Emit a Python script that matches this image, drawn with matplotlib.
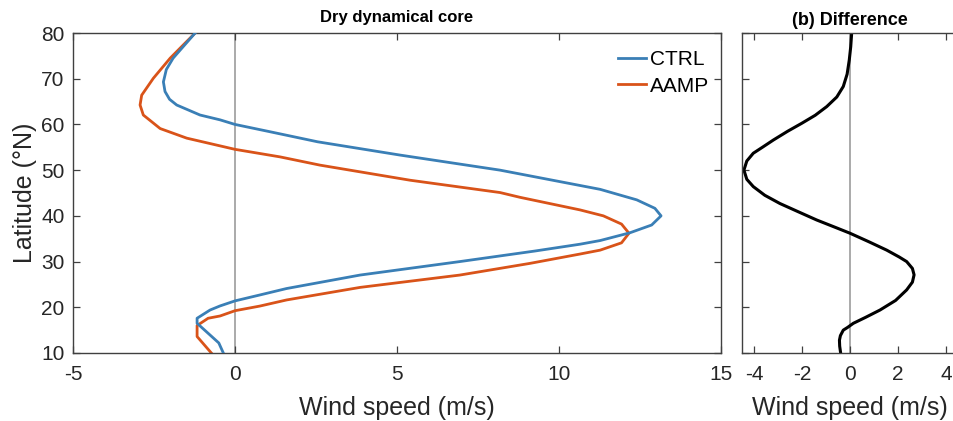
import numpy as np
import matplotlib
matplotlib.use("Agg")
import matplotlib.pyplot as plt

plt.rcParams['font.family'] = ['Liberation Sans', 'DejaVu Sans']
plt.rcParams['axes.unicode_minus'] = False

############################## DATA ##############################
# zonal wind profiles (m/s) against latitude
ctrlLat = [80, 74.5, 72, 69.3, 67.2, 65.5, 64.25, 62.06, 61, 60, 58.4, 56.2, 53.3, 50,
           45.8, 43.5, 41.65, 40, 38, 36.3, 34.6, 33.8, 32.3, 30, 27.05, 24.1, 22.7, 21.4, 20.3,
           19.4, 17.6, 16.5, 12.2, 10]
ctrlWind = [-1.23, -1.91, -2.12, -2.21, -2.16, -2.02, -1.8, -1.08, -0.46, 0, 1.08, 2.55, 5.09,
            8.18, 11.27, 12.4, 12.96, 13.15, 12.86, 12.19, 11.27, 10.65, 9.25, 6.94, 3.86,
            1.59, 0.77, 0, -0.46, -0.77, -1.17, -1.17, -0.5, -0.36]

aampLat = [80, 74.5, 70.1, 66.4, 64.25, 62.06, 59.1, 57, 54.55, 52.9, 51.1, 47.8, 45.1, 44.05,
           41.3, 40, 38.2, 36.2, 34.1, 32.5, 31.65, 29.6, 27.05, 25, 24.35, 21.6, 20.27, 19.25,
           18.1, 17.6, 16, 13.6, 10]
aampWind = [-1.23, -2.0, -2.52, -2.88, -2.93, -2.83, -2.31, -1.49, 0, 1.39, 2.62, 5.4, 8.18, 8.8,
            10.65, 11.37, 11.93, 12.16, 11.93, 11.27, 10.65, 9.1, 6.94, 4.6, 3.86, 1.59, 0.77, 0,
            -0.46, -0.83, -1.17, -1.17, -0.73]

# AAMP minus CTRL
diffLat = [80, 77, 74.1, 71, 68.3, 66, 63.9, 62, 60.25, 58.5, 56.6, 55, 53.7, 52, 50, 48, 46.4,
           44.5, 42.7, 41, 39.1, 37.5, 36.2, 34.3, 32.5, 31, 30, 28.5, 27.1, 25.5, 23.8, 21.5,
           19.4, 17.8, 16.5, 15.6, 15, 13.8, 12.8, 11.5, 10]
diffWind = [0.07, 0.03, -0.03, -0.12, -0.28, -0.55, -0.97, -1.45, -2.01, -2.6, -3.19, -3.65, -4.03,
            -4.3, -4.42, -4.3, -4.03, -3.55, -2.92, -2.2, -1.39, -0.62, 0, 0.8, 1.53, 2.05, 2.36,
            2.6, 2.67, 2.6, 2.36, 1.9, 1.25, 0.65, 0.14, -0.1, -0.28, -0.4, -0.44, -0.43, -0.39]
################################ FIN ################################

blue = "#3a7fb6"
orange = "#d95319"
spineCol = "#404040"
textCol = "#262626"
zeroCol = "#aaaaaa"

fig = plt.figure(figsize=(9.54, 4.21), dpi=100)
ax1 = fig.add_axes([73/954, 1 - 353/421, 648/954, 320/421])
ax2 = fig.add_axes([742/954, 1 - 353/421, 216/954, 320/421])

def style_axes(ax):
    for s in ax.spines.values():
        s.set_color(spineCol)
        s.set_linewidth(1.0)
    ax.tick_params(direction="in", length=5, width=0.9, color=spineCol,
                   top=True, right=True, labelsize=15, labelcolor=textCol)
    ax.tick_params(axis="x", pad=9)
    ax.tick_params(axis="y", pad=6)

## Left panel
ax1.axvline(0, color=zeroCol, lw=1.4, zorder=1)
ax1.plot(ctrlWind, ctrlLat, color=blue, lw=2.0, label="CTRL", zorder=3)
ax1.plot(aampWind, aampLat, color=orange, lw=2.0, label="AAMP", zorder=2)
ax1.set_xlim(-5, 15)
ax1.set_ylim(10, 80)
ax1.set_xticks([-5, 0, 5, 10, 15])
ax1.set_yticks(np.arange(10, 81, 10))
style_axes(ax1)
ax1.set_xlabel("Wind speed (m/s)", fontsize=18, color=textCol, labelpad=8)
ax1.set_ylabel("Latitude (°N)", fontsize=18, color=textCol, labelpad=3)
ax1.set_title("Dry dynamical core", fontsize=12, fontweight="bold", pad=8)
leg = ax1.legend(loc="upper right", bbox_to_anchor=(0.994, 0.972), borderaxespad=0,
                 frameon=False, fontsize=15, handlelength=1.35, handletextpad=0.15,
                 labelspacing=0.35)

## Right panel
ax2.axvline(0, color=zeroCol, lw=1.4, zorder=1)
ax2.plot(diffWind, diffLat, color="black", lw=2.2, zorder=2)
ax2.set_xlim(-4.5, 4.5)
ax2.set_ylim(10, 80)
ax2.set_xticks([-4, -2, 0, 2, 4])
ax2.set_yticks(np.arange(10, 81, 10))
ax2.set_yticklabels([])
style_axes(ax2)
ax2.tick_params(right=False)
ax2.set_xlabel("Wind speed (m/s)", fontsize=18, color=textCol, labelpad=8)
ax2.set_title("(b) Difference", fontsize=13, fontweight="bold", pad=6)

fig.savefig("out.png", dpi=100)
